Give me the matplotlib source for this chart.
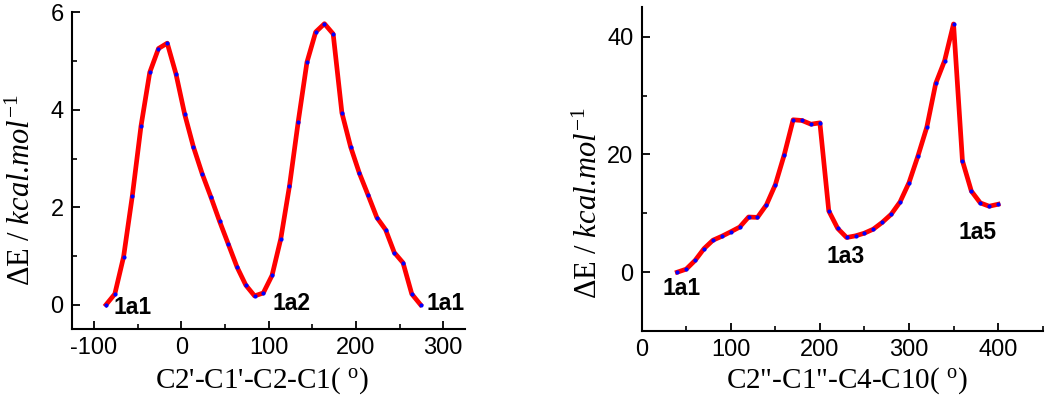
import matplotlib
matplotlib.use("Agg")
import matplotlib.pyplot as plt
from matplotlib.ticker import MultipleLocator

plt.rcParams['font.family'] = 'Liberation Sans'
plt.rcParams['axes.unicode_minus'] = False
plt.rcParams['mathtext.fontset'] = 'custom'
plt.rcParams['mathtext.rm'] = 'Liberation Serif'
plt.rcParams['mathtext.it'] = 'Liberation Serif:italic'

# left scan: C2'-C1'-C2-C1 dihedral
angle_a = [-86 + 10 * i for i in range(37)]
energy_a = [0.00, 0.22, 0.98, 2.23, 3.67, 4.77, 5.26, 5.37, 4.74, 3.91,
            3.24, 2.69, 2.21, 1.71, 1.24, 0.77, 0.40, 0.18, 0.24, 0.60,
            1.35, 2.44, 3.76, 4.98, 5.60, 5.77, 5.56, 3.94, 3.24, 2.70,
            2.25, 1.79, 1.54, 1.07, 0.86, 0.22, 0.00]
labels_a = ['1a1', '1a2', '1a1']
label_pos_a = [(-77, -0.05), (105, 0.03), (281, 0.03)]

# right scan: C2"-C1"-C4-C10 dihedral
angle_b = [40 + 10 * i for i in range(37)]
energy_b = [0.00, 0.51, 2.00, 4.00, 5.43, 6.10, 6.86, 7.66, 9.37, 9.31,
            11.43, 14.86, 19.94, 25.89, 25.77, 25.14, 25.37, 10.40, 7.43, 5.89,
            6.17, 6.63, 7.31, 8.46, 9.83, 11.94, 15.20, 19.71, 24.63, 32.06,
            35.94, 42.17, 18.91, 13.77, 11.77, 11.20, 11.54]
labels_b = ['1a1', '1a3', '1a5']
label_pos_b = [(23, -2.85), (207, 2.67), (356, 6.67)]

ylab = r'ΔE / $kcal$.$mol^{-1}$'

fig = plt.figure(figsize=(10.5, 4.07), dpi=100)
ax1 = fig.add_axes([0.0686, 0.1916, 0.3743, 0.7777])
ax2 = fig.add_axes([0.6111, 0.1867, 0.3819, 0.7953])

panels = [
    (ax1, angle_a, energy_a, labels_a, label_pos_a, (-125, 325), (-0.5, 6),
     100, 50, 2, 1, "C2'-C1'-C2-C1( $^{\\mathrm{o}}$)", (-0.127, 0.44), (0.483, -0.164)),
    (ax2, angle_b, energy_b, labels_b, label_pos_b, (0, 450), (-10, 45),
     100, 50, 20, 10, 'C2"-C1"-C4-C10( $^{\\mathrm{o}}$)', (-0.131, 0.395), (0.511, -0.154)),
]

for ax, x, y, labs, pos, xl, yl, xmaj, xmin, ymaj, ymin, xlab, ycoord, xcoord in panels:
    ax.plot(x, y, color='red', lw=3.4, zorder=2)
    ax.plot(x, y, 'o', color='blue', ms=3.0, mew=0, zorder=3)
    for t, (px, py) in zip(labs, pos):
        ax.text(px, py, t, fontsize=16.5, fontweight='bold', ha='left', va='center')
    ax.set_xlim(*xl)
    ax.set_ylim(*yl)
    ax.xaxis.set_major_locator(MultipleLocator(xmaj))
    ax.xaxis.set_minor_locator(MultipleLocator(xmin))
    ax.yaxis.set_major_locator(MultipleLocator(ymaj))
    ax.yaxis.set_minor_locator(MultipleLocator(ymin))
    for s in ['top', 'right']:
        ax.spines[s].set_visible(False)
    for s in ['left', 'bottom']:
        ax.spines[s].set_linewidth(1.5)
    ax.tick_params(which='major', direction='in', length=6, width=1.3, labelsize=17, pad=6)
    ax.tick_params(which='minor', direction='in', length=3.5, width=1.2)
    ax.set_ylabel(ylab, fontsize=22, family='Liberation Serif', va='center')
    ax.yaxis.set_label_coords(*ycoord)
    ax.set_xlabel(xlab, fontsize=21, family='Liberation Serif', va='center')
    ax.xaxis.set_label_coords(*xcoord)

fig.savefig('out.png', dpi=100)
